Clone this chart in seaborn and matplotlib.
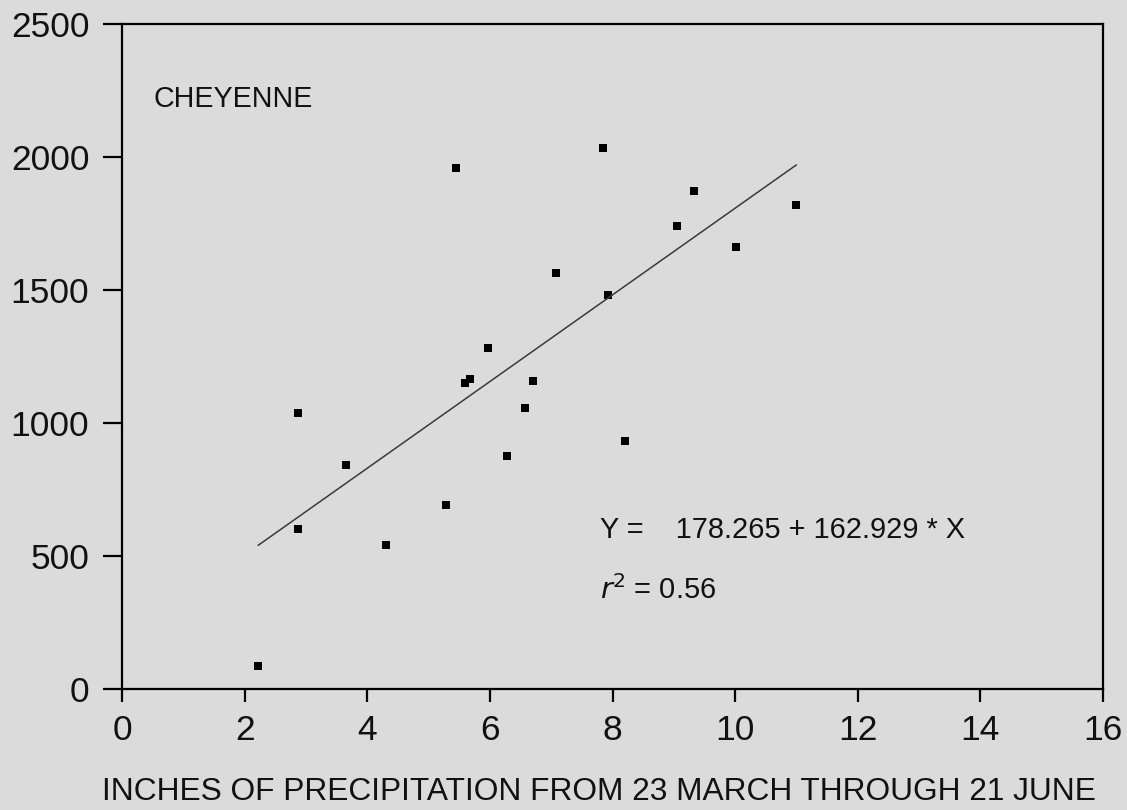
import numpy as np
import pandas as pd
import matplotlib
matplotlib.use("Agg")
import matplotlib.pyplot as plt
import seaborn as sns

# Data
precip = [2.22, 2.87, 2.87, 3.65, 4.31, 5.29, 5.45, 5.60, 5.68, 5.97,
          6.28, 6.57, 6.70, 7.08, 7.85, 7.93, 8.21, 9.05, 9.33, 10.02, 11.00]
yield_vals = [86, 1038, 601, 842, 541, 692, 1959, 1150, 1165, 1282,
              876, 1056, 1158, 1564, 2034, 1481, 932, 1741, 1872, 1662, 1820]
intercept = 178.265
slope = 162.929
r2 = 0.56
station = "CHEYENNE"
x_label = "INCHES OF PRECIPITATION FROM 23 MARCH THROUGH 21 JUNE"
x_ticks = [0, 2, 4, 6, 8, 10, 12, 14, 16]
y_ticks = [0, 500, 1000, 1500, 2000, 2500]

df = pd.DataFrame({"precip": precip, "yield": yield_vals})
xfit = np.array([min(precip), max(precip)])
fit_df = pd.DataFrame({"precip": xfit, "yield": intercept + slope * xfit})

sns.set_theme(style="ticks")
plt.rcParams['font.family'] = ['Liberation Sans', 'DejaVu Sans']

bg = "#dbdbdb"
txt = "#111111"
fig = plt.figure(figsize=(11.27, 8.10), dpi=100, facecolor=bg)
ax = fig.add_axes([122/1127, 1 - 689/810, (1103-122)/1127, (689-24)/810])
ax.set_facecolor(bg)

sns.lineplot(data=fit_df, x="precip", y="yield", ax=ax, color="#3a3a3a", linewidth=1.1)
sns.scatterplot(data=df, x="precip", y="yield", ax=ax, marker="s", s=28,
                color="black", edgecolor="black", linewidth=0)

ax.set_xlim(0, 16)
ax.set_ylim(0, 2500)
ax.set_xticks(x_ticks)
ax.set_yticks(y_ticks)
ax.set_xlabel("")
ax.set_ylabel("")

for s in ax.spines.values():
    s.set_visible(True)
    s.set_color("black")
    s.set_linewidth(1.6)

ax.tick_params(axis="x", direction="out", length=9, width=1.6, pad=9,
               labelsize=25.5, colors="black", labelcolor=txt)
ax.tick_params(axis="y", direction="out", length=13.5, width=1.6, pad=10,
               labelsize=25.5, colors="black", labelcolor=txt)

ax.text(0.51, 2188, station, fontsize=20.6, color=txt, va="baseline")
ax.text(7.8, 568, f"Y =    {intercept:.3f} + {slope:.3f} * X",
        fontsize=20.9, color=txt, va="baseline")
ax.text(7.8, 338, r"$\it{r}$" + "$^{2}$" + f" = {r2:.2f}",
        fontsize=20.9, color=txt, va="baseline")

fig.text(599/1127, 1 - 800/810, x_label, fontsize=22.8, color=txt,
         ha="center", va="baseline")

fig.savefig("out.png", dpi=100, facecolor=bg)
